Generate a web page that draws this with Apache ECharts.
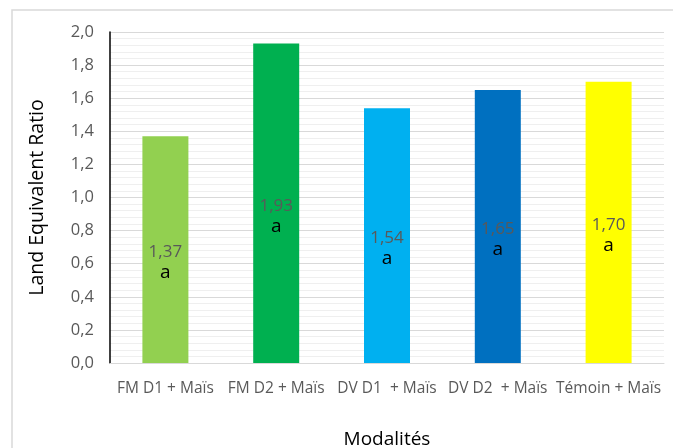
<!DOCTYPE html>
<html><head><meta charset="utf-8">
<script src="https://cdn.jsdelivr.net/npm/echarts@6/dist/echarts.min.js"></script>
<style>html,body{margin:0;padding:0;background:#fff}#c{width:673px;height:448px}</style>
</head><body><div id="c"></div>
<script>
const categories = ['FM D1 + Maïs', 'FM D2 + Maïs', 'DV D1  + Maïs', 'DV D2  + Maïs', 'Témoin + Maïs'];
const values = [1.37, 1.93, 1.54, 1.65, 1.70];
const groups = ['a', 'a', 'a', 'a', 'a'];
const colors = ['#92d050', '#00b050', '#00b0f0', '#0070c0', '#ffff00'];
const yTicks = { min: 0, max: 2, interval: 0.2 };
const FONT = '"Open Sans", "Noto Sans", sans-serif';
const fmt = v => v.toFixed(2).replace('.', ',');
const chart = echarts.init(document.getElementById('c'));
chart.setOption({
  animation: false,
  textStyle: { fontFamily: FONT },
  graphic: [{ type: 'rect', shape: { x: 12, y: 10, width: 700, height: 500 }, style: { fill: 'none', stroke: '#d9d9d9', lineWidth: 1.5 }, silent: true }],
  grid: { left: 110, right: 9, top: 32, bottom: 85, containLabel: false, outerBoundsMode: 'none' },
  xAxis: {
    type: 'category', data: categories,
    name: 'Modalités', nameLocation: 'middle', nameGap: 67,
    nameTextStyle: { fontSize: 19, color: '#000', fontFamily: FONT },
    axisLine: { lineStyle: { color: '#d9d9d9', width: 1 } },
    axisTick: { show: false },
    axisLabel: { color: '#595959', fontSize: 15.5, margin: 18, interval: 0, fontFamily: FONT }
  },
  yAxis: {
    type: 'value', min: yTicks.min, max: yTicks.max, interval: yTicks.interval,
    name: 'Land Equivalent Ratio', nameLocation: 'middle', nameGap: 63, nameRotate: 90,
    nameTextStyle: { fontSize: 19.5, color: '#000', fontFamily: FONT },
    axisLine: { show: true, lineStyle: { color: '#000', width: 1.5 } },
    axisTick: { show: false },
    axisLabel: { color: '#595959', fontSize: 16.5, margin: 16, formatter: v => v.toFixed(1).replace('.', ','), fontFamily: FONT },
    splitLine: { lineStyle: { color: '#d9d9d9', width: 1.2 } },
    minorTick: { show: false, splitNumber: 5 },
    minorSplitLine: { show: true, lineStyle: { color: '#efefef', width: 1.2 } }
  },
  series: [{
    type: 'bar', barWidth: 46,
    data: values.map((v, i) => ({ value: v, itemStyle: { color: colors[i] } })),
    label: {
      show: true, position: 'inside', offset: [0, 13],
      formatter: p => '{v|' + fmt(p.value) + '}\n{g|' + groups[p.dataIndex] + '}',
      rich: {
        v: { color: '#595959', fontSize: 17, lineHeight: 20, fontFamily: FONT },
        g: { color: '#000', fontSize: 19, lineHeight: 21, fontFamily: FONT }
      }
    }
  }]
});
</script></body></html>
